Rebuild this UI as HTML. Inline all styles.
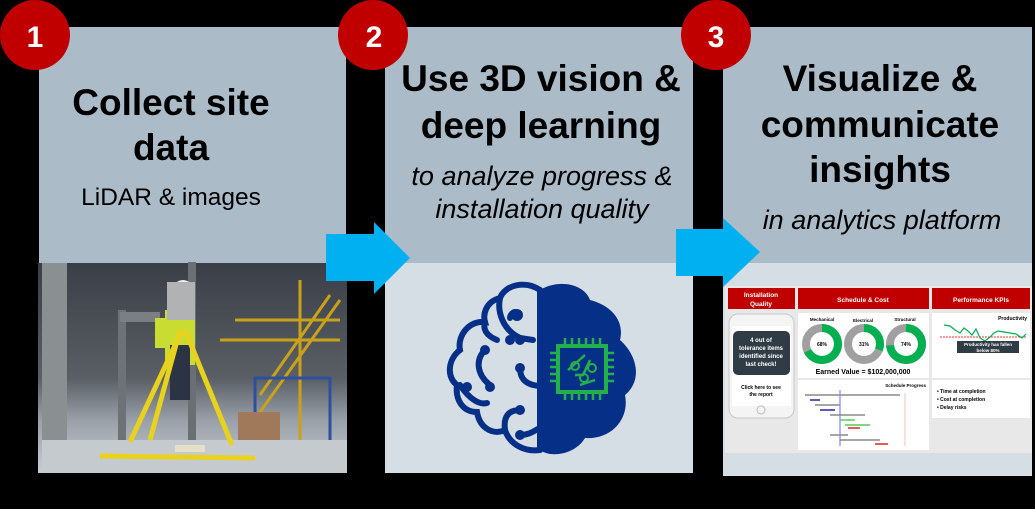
<!DOCTYPE html>
<html><head><meta charset="utf-8"><style>
html,body{margin:0;padding:0;background:#000;}
svg{display:block}
text{font-family:"Liberation Sans",Arial,sans-serif}
</style></head><body>
<svg width="1035" height="509" viewBox="0 0 1035 509" xmlns="http://www.w3.org/2000/svg">
<rect width="1035" height="509" fill="#000"/>
<rect x="39" y="27" width="307" height="236" fill="#abbcc8"/>
<rect x="385" y="27" width="308" height="236" fill="#abbcc8"/>
<rect x="385" y="263" width="308" height="210" fill="#d5dee4"/>
<rect x="723" y="27" width="309" height="236" fill="#abbcc8"/>
<rect x="723" y="263" width="309" height="213" fill="#d5dee4"/>
<defs>
<linearGradient id="ph" x1="0" y1="0" x2="0" y2="1">
<stop offset="0" stop-color="#3a3e46"/><stop offset="0.55" stop-color="#5a5f66"/><stop offset="0.75" stop-color="#9aa0a8"/><stop offset="1" stop-color="#c8ccd2"/>
</linearGradient>
</defs>
<rect x="38" y="263" width="309" height="210" fill="url(#ph)"/>
<rect x="42" y="263" width="25" height="180" fill="#8a8f92"/>
<rect x="118" y="310" width="8" height="135" fill="#6d7276"/>
<rect x="188" y="262" width="8" height="180" fill="#6a6f74"/>
<rect x="120" y="312" width="40" height="10" fill="#7b7f83"/>
<g stroke="#c9a21a" stroke-width="3" fill="none">
<line x1="240" y1="440" x2="340" y2="300"/><line x1="260" y1="395" x2="330" y2="295"/>
<line x1="220" y1="340" x2="340" y2="340"/><line x1="235" y1="320" x2="340" y2="320"/>
<line x1="300" y1="280" x2="300" y2="440"/>
</g>
<g stroke="#2d4fa0" stroke-width="3" fill="none"><path d="M255 440V378H330V440"/></g>
<rect x="238" y="412" width="42" height="28" fill="#a0785a"/>
<rect x="42" y="440" width="305" height="33" fill="#c5cacf"/>
<rect x="165" y="310" width="30" height="55" fill="#c8dc32"/>
<rect x="155" y="318" width="12" height="30" fill="#c8dc32"/>
<rect x="170" y="345" width="20" height="55" fill="#2c3345"/>
<circle cx="183" cy="290" r="10" fill="#eeeeee"/>
<rect x="175" y="290" width="10" height="10" fill="#d9b49b"/>
<rect x="167" y="282" width="28" height="38" fill="#b0b2b4"/>
<g stroke="#e8d21e" stroke-width="5" fill="none">
<line x1="182" y1="330" x2="130" y2="442"/><line x1="185" y1="330" x2="232" y2="445"/><line x1="180" y1="330" x2="150" y2="440"/>
<line x1="100" y1="456" x2="255" y2="458"/>
</g>
<rect x="175" y="445" width="30" height="7" fill="#e6e0c8"/>
<polygon points="326,234 374,234 374,222 410,258 374,294 374,281 326,281" fill="#00b0f0"/>
<polygon points="676,229 723,229 723,218 760,252 723,287 723,276 676,276" fill="#00b0f0"/>
<circle cx="35" cy="35" r="35" fill="#c00000"/>
<circle cx="373" cy="35" r="35" fill="#c00000"/>
<circle cx="716" cy="35" r="35" fill="#c00000"/>
<g fill="#fff" font-weight="bold" font-size="30" text-anchor="middle">
<text x="35" y="47">1</text><text x="374" y="47">2</text><text x="716" y="47">3</text>
</g>
<g font-weight="bold" font-size="37" text-anchor="middle" fill="#000">
<text x="171" y="115">Collect site</text><text x="171" y="160">data</text>
<text x="541" y="91">Use 3D vision &amp;</text><text x="541" y="138">deep learning</text>
<text x="880" y="91">Visualize &amp;</text><text x="880" y="137">communicate</text><text x="880" y="182">insights</text>
</g>
<text x="171" y="205" font-size="24.5" text-anchor="middle">LiDAR &amp; images</text>
<g font-style="italic" font-size="27" text-anchor="middle">
<text x="542" y="185">to analyze progress &amp;</text><text x="542" y="218">installation quality</text>
<text x="882" y="229">in analytics platform</text>
</g>
<g transform="translate(385,260)">
<path d="M155 30 C175 18 200 25 205 40 C225 45 240 60 235 80 C252 95 258 120 240 135 C245 160 225 180 200 178 C190 195 165 198 155 190 Z" fill="#063087"/>
<g fill="none" stroke="#063087" stroke-width="6" stroke-linecap="round">
<path d="M155 30 C140 20 120 25 115 38 C100 42 98 55 100 62 C85 60 72 75 75 90 C62 100 62 118 72 125 C70 140 78 152 92 152 C95 170 110 175 120 170 C125 185 140 192 155 190"/>
<path d="M155 30 L155 190"/>
<path d="M115 38 C112 52 118 70 135 78 L148 80"/>
<path d="M100 62 C98 68 100 75 112 80"/>
<path d="M100 90 C90 100 92 115 105 125"/>
<path d="M75 125 C85 140 95 145 102 143"/>
<path d="M135 108 C135 118 140 125 155 126"/>
<path d="M120 170 C118 155 125 150 135 150"/>
<path d="M135 175 C145 175 150 170 155 168"/>
<path d="M125 58 C125 55 128 52 130 52"/>
</g>
<g fill="#063087"><circle cx="132" cy="55" r="6"/><circle cx="125" cy="80" r="5"/><circle cx="135" cy="80" r="5"/><circle cx="100" cy="90" r="5"/><circle cx="82" cy="127" r="5"/><circle cx="105" cy="127" r="5"/><circle cx="135" cy="108" r="5"/><circle cx="135" cy="150" r="5"/><circle cx="135" cy="175" r="5"/></g>
<rect x="173" y="86" width="48" height="46" fill="none" stroke="#22b04a" stroke-width="4"/>
<g stroke="#22b04a" stroke-width="2.5">
<path d="M180 78v8M187 78v8M194 78v8M201 78v8M208 78v8M215 78v8M180 132v8M187 132v8M194 132v8M201 132v8M208 132v8M215 132v8M165 93h8M165 100h8M165 107h8M165 114h8M165 121h8M221 93h8M221 100h8M221 107h8M221 114h8M221 121h8"/>
<path d="M183 110 L200 95 M190 115 L198 115 L205 100 M195 125 L210 120" fill="none"/>
</g>
<g fill="none" stroke="#22b04a" stroke-width="2"><circle cx="190" cy="106" r="4"/><circle cx="207" cy="108" r="4"/><circle cx="199" cy="118" r="4"/></g>
</g>
<rect x="725" y="286" width="307" height="167" fill="#e8e8e8"/>
<g fill="#c00000"><rect x="728" y="288" width="67" height="21"/><rect x="798" y="288" width="131" height="21"/><rect x="932" y="288" width="98" height="21"/></g>
<g fill="#fff" font-weight="bold" font-size="6.5" text-anchor="middle">
<text x="761" y="297">Installation</text><text x="761" y="306">Quality</text>
<text x="863" y="302">Schedule &amp; Cost</text><text x="981" y="302">Performance KPIs</text>
</g>
<rect x="729" y="314" width="65" height="104" rx="9" fill="#f4f4f4" stroke="#c8c8c8"/>
<rect x="732" y="326" width="59" height="80" fill="#fff"/>
<rect x="733" y="331" width="57" height="44" rx="5" fill="#2f3c45"/>
<g fill="#fff" font-weight="bold" font-size="6" text-anchor="middle">
<text x="761" y="342">4 out of</text><text x="761" y="350">tolerance items</text><text x="761" y="358">identified since</text><text x="761" y="366">last check!</text></g>
<g font-weight="bold" font-size="5" text-anchor="middle"><text x="761" y="389">Click here to see</text><text x="761" y="396">the report</text></g>
<circle cx="761" cy="410" r="4" fill="none" stroke="#bbb"/>
<rect x="798" y="313" width="131" height="65" fill="#fff"/>
<rect x="798" y="380" width="131" height="70" fill="#fff"/>
<rect x="932" y="313" width="98" height="65" fill="#fff"/>
<rect x="932" y="380" width="98" height="38" fill="#fff"/>
<g font-weight="bold" font-size="4.5" text-anchor="middle"><text x="822" y="321">Mechanical</text><text x="863" y="322">Electrical</text><text x="905" y="321">Structural</text></g>
<g fill="none" stroke-width="8">
<circle cx="822" cy="344" r="16" stroke="#a0a0a0"/><circle cx="822" cy="344" r="16" stroke="#00b050" stroke-dasharray="68 100" transform="rotate(-90 822 344)"/>
<circle cx="864" cy="344" r="16" stroke="#a0a0a0"/><circle cx="864" cy="344" r="16" stroke="#00b050" stroke-dasharray="31 100" transform="rotate(-90 864 344)"/>
<circle cx="906" cy="344" r="16" stroke="#a0a0a0"/><circle cx="906" cy="344" r="16" stroke="#00b050" stroke-dasharray="74 100" transform="rotate(-90 906 344)"/>
</g>
<g font-weight="bold" font-size="5" text-anchor="middle"><text x="822" y="346">68%</text><text x="864" y="346">31%</text><text x="906" y="346">74%</text></g>
<text x="863" y="374" font-weight="bold" font-size="7" text-anchor="middle">Earned Value = $102,000,000</text>
<text x="926" y="387" font-weight="bold" font-size="4.5" text-anchor="end">Schedule Progress</text>
<g stroke-width="1.5">
<line x1="840" y1="390" x2="840" y2="446" stroke="#9999ff"/>
<line x1="905" y1="393" x2="905" y2="446" stroke="#f4a0a0" stroke-width="0.7"/>
<line x1="805" y1="395" x2="900" y2="395" stroke="#888"/>
<line x1="810" y1="400" x2="820" y2="400" stroke="#22a"/>
<line x1="815" y1="405" x2="840" y2="405" stroke="#888"/>
<line x1="820" y1="410" x2="835" y2="410" stroke="#22a"/>
<line x1="830" y1="415" x2="865" y2="415" stroke="#888"/>
<line x1="840" y1="420" x2="855" y2="420" stroke="#5c5"/>
<line x1="845" y1="425" x2="870" y2="425" stroke="#5c5"/>
<line x1="848" y1="428" x2="860" y2="428" stroke="#d22"/>
<line x1="830" y1="435" x2="848" y2="435" stroke="#888"/>
<line x1="840" y1="440" x2="880" y2="440" stroke="#888"/>
<line x1="875" y1="444" x2="888" y2="444" stroke="#d22"/>
</g>
<text x="1027" y="320" font-weight="bold" font-size="5" text-anchor="end">Productivity</text>
<line x1="940" y1="337" x2="1027" y2="337" stroke="#e33" stroke-dasharray="2 1"/>
<polyline points="944,325 950,326 955,330 960,333 964,328 968,331 972,335 976,329 980,338 985,341 990,337 994,333 998,331 1004,332 1010,333 1016,334 1022,338 1026,334" fill="none" stroke="#00b050" stroke-width="1.2"/>
<rect x="957" y="341" width="62" height="12" fill="#2f3c45"/>
<g fill="#fff" font-weight="bold" font-size="4.5" text-anchor="middle"><text x="988" y="346">Productivity has fallen</text><text x="988" y="352">below 80%</text></g>
<g font-weight="bold" font-size="5"><text x="937" y="393">•   Time at completion</text><text x="937" y="401">•   Cost at completion</text><text x="937" y="409">•   Delay risks</text></g>
</svg>
</body></html>
